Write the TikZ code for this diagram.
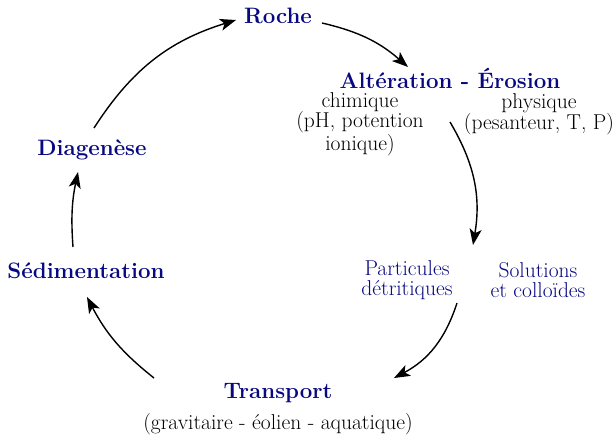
\documentclass[tikz,border=0pt]{standalone}
\usetikzlibrary{arrows.meta}
\definecolor{tblue}{RGB}{8,8,128}
\tikzset{
  title/.style={font=\fontsize{22.3}{22}\selectfont\bfseries, text=tblue, inner sep=0pt},
  sub/.style={font=\fontsize{21.5}{20.5}\selectfont, text=black, align=center, inner sep=0pt},
  subblue/.style={sub, text=tblue},
  cyc/.style={line width=1.4pt, -{Stealth[length=16pt,width=12pt,inset=4pt]}}
}
\begin{document}
\begin{tikzpicture}[x=1pt,y=-1pt]
\useasboundingbox (0,0) rectangle (615,437);
\node[title] (roche) at (278,16) {Roche};
\node[title] (alter) at (450,78) {Altération - Érosion};
\node[sub] (chim) at (360,124) {chimique\\(pH, potention\\ionique)};
\node[sub] (phys) at (539,114) {physique\\(pesanteur, T, P)};
\node[subblue] (part) at (407,280) {Particules\\détritiques};
\node[subblue] (sol) at (538,280) {Solutions\\et colloïdes};
\node[title] (transp) at (278,393) {Transport};
\node[sub] (transpsub) at (278,424) {(gravitaire - éolien - aquatique)};
\node[title] (sedim) at (86,271) {Sédimentation};
\node[title] (diag) at (92,150) {Diagenèse};
\coordinate (a1s) at (94,128);  \coordinate (a1e) at (236,20);
\coordinate (a2s) at (322,23);  \coordinate (a2e) at (408,67);
\coordinate (a3s) at (450,122); \coordinate (a3e) at (473,245);
\coordinate (a4s) at (457,303); \coordinate (a4e) at (394,378);
\coordinate (a5s) at (154,378); \coordinate (a5e) at (87,297);
\coordinate (a6s) at (73,247);  \coordinate (a6e) at (78,172);
\draw[cyc] (a1s) to[bend left=20] (a1e);
\draw[cyc] (a2s) to[bend left=14] (a2e);
\draw[cyc] (a3s) to[bend left=20] (a3e);
\draw[cyc] (a4s) to[bend left=22] (a4e);
\draw[cyc] (a5s) to[bend left=12] (a5e);
\draw[cyc] (a6s) to[bend left=8] (a6e);
\end{tikzpicture}
\end{document}
